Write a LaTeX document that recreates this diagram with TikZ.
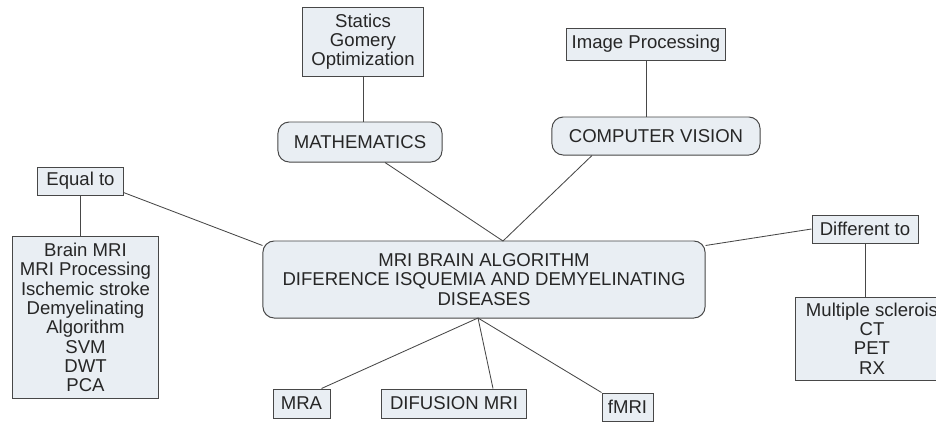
\documentclass[tikz,border=0pt]{standalone}
\usepackage{fontspec}
\setmainfont{Liberation Sans}
\definecolor{boxfill}{HTML}{E9EEF3}
\definecolor{boxline}{HTML}{474747}
\begin{document}
\begin{tikzpicture}[x=0.025cm, y=-0.025cm,
  box/.style={draw=boxline, fill=boxfill, line width=0.7pt, text=black!85, align=center,
    font=\fontsize{13.2}{13.7}\selectfont, inner sep=1pt},
  rbox/.style={box, rounded corners=8pt},
  link/.style={draw=boxline, line width=0.6pt}]
\useasboundingbox (0,0) rectangle (936,423);
\clip (0,0) rectangle (936,423);

% top row
\node [box, minimum width=3cm, minimum height=1.725cm] (stat) at (363,41.5) {Statics\\Gomery\\Optimization};
\node [box, minimum width=3.95cm, minimum height=0.8cm] (imgp) at (646,44) {Image Processing};
\node [rbox, minimum width=4.1cm, minimum height=1cm] (math) at (360,142) {MATHEMATICS};
\node [rbox, minimum width=5.2cm, minimum height=0.95cm] (cv) at (656,136) {COMPUTER VISION};

% left and right
\node [box, minimum width=2.125cm, minimum height=0.7cm] (eq) at (80.5,181) {Equal to};
\node [box, minimum width=3.625cm, minimum height=4.025cm] (elist) at (85.5,317.5)
  {Brain MRI\\MRI Processing\\Ischemic stroke\\Demyelinating\\Algorithm\\SVM\\DWT\\PCA};
\node [box, minimum width=2.65cm, minimum height=0.7cm] (diff) at (865,229) {Different to};
\node [box, minimum width=3.8cm, minimum height=2.075cm] (dlist) at (872,338.5)
  {Multiple sclerois\\CT\\PET\\RX};

% center
\node [rbox, minimum width=11.05cm, minimum height=1.925cm] (main) at (484,279.5)
  {MRI BRAIN ALGORITHM\\DIFERENCE ISQUEMIA AND DEMYELINATING\\DISEASES};
\coordinate (mtop) at (503,241);
\coordinate (mbot) at (478,318);

% bottom row
\node [box, minimum width=1.425cm, minimum height=0.725cm] (mra) at (301.5,403.5) {MRA};
\node [box, minimum width=3.6cm, minimum height=0.725cm] (dif) at (454,403.5) {DIFUSION MRI};
\node [box, minimum width=1.275cm, minimum height=0.7cm] (fmri) at (627.5,407) {fMRI};

\draw [link] (stat.south) -- (stat.south |- math.north);
\draw [link] (imgp.south) -- (imgp.south |- cv.north);
\draw [link] ([xshift=0.625cm]math.south) -- (mtop);
\draw [link] ([xshift=-1.6cm]cv.south) -- (mtop);
\draw [link] ([yshift=0.075cm]eq.south east) -- ([yshift=0.85cm]main.west);
\draw [link] (eq.south) -- (eq.south |- elist.north);
\draw [link] ([yshift=0.85cm]main.east) -- (diff.west);
\draw [link] (diff.south) -- (diff.south |- dlist.north);
\draw [link] (mbot) -- ([xshift=0.5cm]mra.north);
\draw [link] (mbot) -- ([xshift=0.975cm]dif.north);
\draw [link] (mbot) -- (fmri.north west);
\end{tikzpicture}
\end{document}
